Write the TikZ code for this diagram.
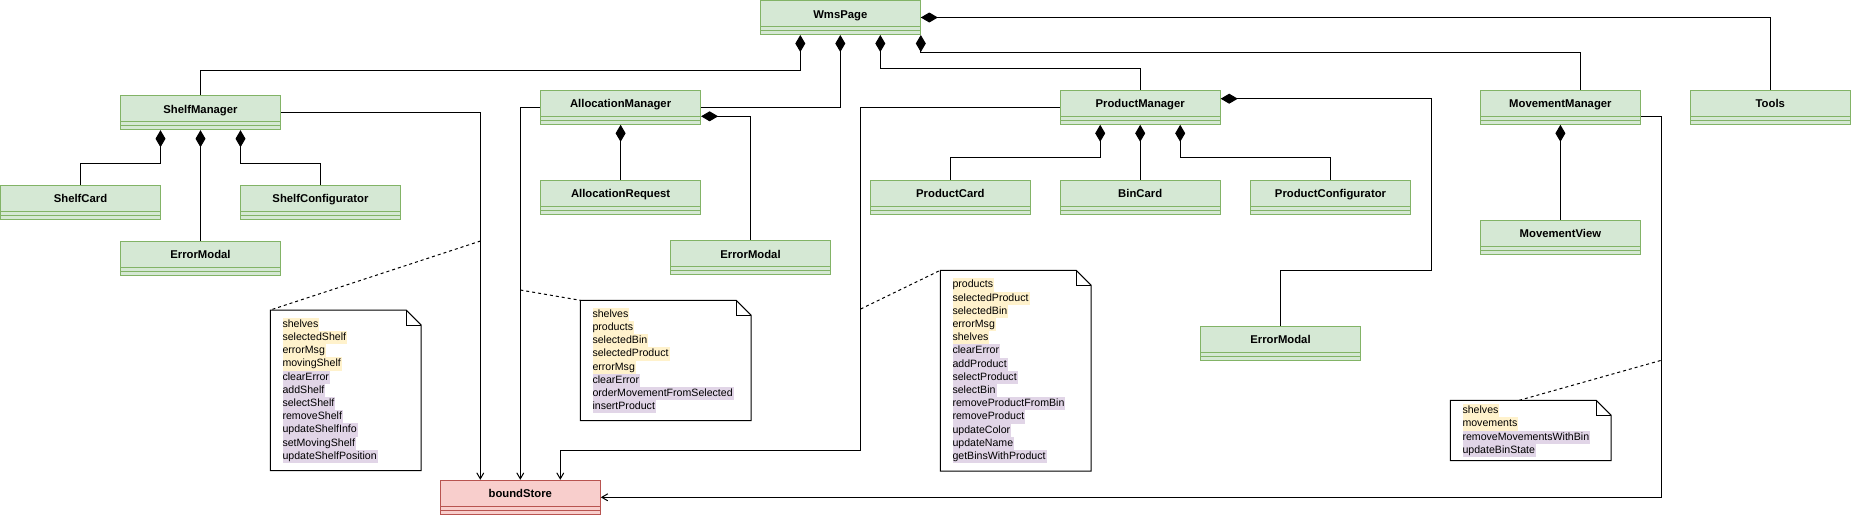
\documentclass[tikz,border=0pt]{standalone}
\usepackage{fontspec}
\setmainfont{Liberation Sans}
\usepackage{tikz}
\usetikzlibrary{arrows.meta}
\usepackage{xcolor}
\definecolor{classgreen}{RGB}{130,179,102}
\definecolor{classfill}{RGB}{213,232,212}
\definecolor{storered}{RGB}{184,84,80}
\definecolor{storefill}{RGB}{248,206,204}
\definecolor{fieldfill}{RGB}{255,242,204}
\definecolor{methodfill}{RGB}{225,213,231}
\setlength{\fboxsep}{0pt}
\newcommand{\fieldhl}[1]{\colorbox{fieldfill}{\rule[-3.6pt]{0pt}{13.2pt}#1\kern1pt}}
\newcommand{\methodhl}[1]{\colorbox{methodfill}{\rule[-3.6pt]{0pt}{13.2pt}#1\kern1pt}}

\begin{document}
\begin{tikzpicture}[
                line join=miter,
                boxclass/.style={shape=rectangle, draw=#1, line width=1pt, minimum width=160pt, minimum height=34pt, inner sep=0pt, text height=8pt, text depth=7pt, font=\bfseries\fontsize{11.3}{13}\selectfont,
                    path picture={\draw[#1, line width=1pt] ([yshift=8pt]path picture bounding box.south west) -- ([yshift=8pt]path picture bounding box.south east) ([yshift=4pt]path picture bounding box.south west) -- ([yshift=4pt]path picture bounding box.south east);}},
                greenclass/.style={boxclass=classgreen, fill=classfill},
                redclass/.style={boxclass=storered, fill=storefill},
                notebox/.style 2 args={anchor=north west, text width=#1, minimum height=#2, inner xsep=12pt, inner ysep=0pt, align=left, font=\fontsize{10.6}{13.2}\selectfont},
                owns/.style={{Diamond[length=17pt, width=10pt]}-, line width=1pt},
                uses/.style={-{Straight Barb[length=6pt, width=7pt]}, line width=1pt},
                notelink/.style={dash pattern=on 3pt off 3pt, line width=1pt}
                ]
                \useasboundingbox (0pt,0pt) rectangle (1852pt,-515pt);

                %% Classes
                \node[greenclass] (wms) at (840.3pt,-17.5pt) {WmsPage};
                \node[greenclass] (shelfmgr) at (200.5pt,-112.7pt) {ShelfManager};
                \node[greenclass] (allocmgr) at (620.6pt,-107.3pt) {AllocationManager};
                \node[greenclass] (prodmgr) at (1140.2pt,-107.3pt) {ProductManager};
                \node[greenclass] (movemgr) at (1560.4pt,-107.3pt) {MovementManager};
                \node[greenclass] (tools) at (1770.3pt,-107.3pt) {Tools};

                \node[greenclass] (shelfcard) at (80.5pt,-202.3pt) {ShelfCard};
                \node[greenclass] (shelfcfg) at (320.5pt,-202.3pt) {ShelfConfigurator};
                \node[greenclass] (shelferr) at (200.5pt,-258.3pt) {ErrorModal};
                \node[greenclass] (allocreq) at (620.6pt,-197.3pt) {AllocationRequest};
                \node[greenclass] (allocerr) at (750.5pt,-257.7pt) {ErrorModal};
                \node[greenclass] (prodcard) at (950.4pt,-197.3pt) {ProductCard};
                \node[greenclass] (bincard) at (1140.2pt,-197.3pt) {BinCard};
                \node[greenclass] (prodcfg) at (1330.5pt,-197.3pt) {ProductConfigurator};
                \node[greenclass] (proderr) at (1280.5pt,-343.2pt) {ErrorModal};
                \node[greenclass] (moveview) at (1560.4pt,-237.3pt) {MovementView};

                \node[redclass] (store) at (520.3pt,-497.3pt) {boundStore};

                %% Notes
                \node[notebox={126.4pt}{160.3pt}] (shelfnote) at (270.3pt,-310pt) {\fieldhl{shelves}\\ \fieldhl{selectedShelf}\\ \fieldhl{errorMsg}\\ \fieldhl{movingShelf}\\ \methodhl{clearError}\\ \methodhl{addShelf}\\ \methodhl{selectShelf}\\ \methodhl{removeShelf}\\ \methodhl{updateShelfInfo}\\ \methodhl{setMovingShelf}\\ \methodhl{updateShelfPosition}};
                \node[notebox={146.4pt}{120pt}] (allocnote) at (580.3pt,-300.3pt) {\fieldhl{shelves}\\ \fieldhl{products}\\ \fieldhl{selectedBin}\\ \fieldhl{selectedProduct}\\ \fieldhl{errorMsg}\\ \methodhl{clearError}\\ \methodhl{orderMovementFromSelected}\\ \methodhl{insertProduct}};
                \node[notebox={126.4pt}{200.4pt}] (prodnote) at (940.3pt,-270.3pt) {\fieldhl{products}\\ \fieldhl{selectedProduct}\\ \fieldhl{selectedBin}\\ \fieldhl{errorMsg}\\ \fieldhl{shelves}\\ \methodhl{clearError}\\ \methodhl{addProduct}\\ \methodhl{selectProduct}\\ \methodhl{selectBin}\\ \methodhl{removeProductFromBin}\\ \methodhl{removeProduct}\\ \methodhl{updateColor}\\ \methodhl{updateName}\\ \methodhl{getBinsWithProduct}};
                \node[notebox={136.4pt}{60pt}] (movenote) at (1450.3pt,-400.3pt) {\fieldhl{shelves}\\ \fieldhl{movements}\\ \methodhl{removeMovementsWithBin}\\ \methodhl{updateBinState}};

                    % folded corner outline
                    \foreach \n in {shelfnote,allocnote,prodnote,movenote} {
                        \draw[line width=1pt] (\n.north west) -- ([xshift=-15pt]\n.north east) -- ([yshift=-15pt]\n.north east) -- (\n.south east) -- (\n.south west) -- cycle;
                        \draw[line width=1pt] ([xshift=-15pt]\n.north east) |- ([yshift=-15pt]\n.north east);
                    }

                %% Composition
                \draw[owns] ([xshift=-40pt]wms.south) -- ++(0pt,-35.7pt) -| (shelfmgr);
                \draw[owns] (wms.south) |- (allocmgr.east);
                \draw[owns] ([xshift=40pt]wms.south) -- ++(0pt,-33pt) -| (prodmgr);
                \draw[owns] (wms.south east) -- ++(0pt,-17pt) -| ([xshift=20pt]movemgr.north);
                \draw[owns] (wms.east) -| (tools);

                    \foreach \a/\b in {shelfmgr/shelferr,allocmgr/allocreq,prodmgr/bincard,movemgr/moveview} {
                        \draw[owns] (\a) -- (\b);
                    }
                    \foreach \a/\b/\s in {shelfmgr/shelfcard/-40pt,shelfmgr/shelfcfg/40pt,prodmgr/prodcard/-40pt,prodmgr/prodcfg/40pt} {
                        \draw[owns] ([xshift=\s]\a.south) -- ++(0pt,-33pt) -| (\b);
                    }

                \draw[owns] ([yshift=-9pt]allocmgr.east) -| (allocerr);
                \draw[owns] ([yshift=8.6pt]prodmgr.east) -- ++(210.3pt,0pt) -- ++(0pt,-171.3pt) -| (proderr);

                %% Store usage
                \draw[uses] (shelfmgr.east) -| ([xshift=-40pt]store.north);
                \draw[uses] (allocmgr.west) -| (store.north);
                \draw[uses] (prodmgr.west) -- ++(-199.6pt,0pt) -- ++(0pt,-343pt) -| ([xshift=40pt]store.north);
                \draw[uses] ([yshift=-8.7pt]movemgr.east) -- ++(20.2pt,0pt) |- (store.east);

                %% Note links
                \coordinate (shelftap) at (480.5pt,-241pt);
                \coordinate (alloctap) at (520.3pt,-290pt);
                \coordinate (prodtap) at (860.6pt,-309pt);
                \coordinate (movetap) at (1660.6pt,-360.5pt);
                \draw[notelink] (shelftap) -- (shelfnote.north west);
                \draw[notelink] (alloctap) -- (allocnote.north west);
                \draw[notelink] (prodtap) -- (prodnote.north west);
                \draw[notelink] (movetap) -- ([xshift=-11.5pt]movenote.north);
\end{tikzpicture}
\end{document}
